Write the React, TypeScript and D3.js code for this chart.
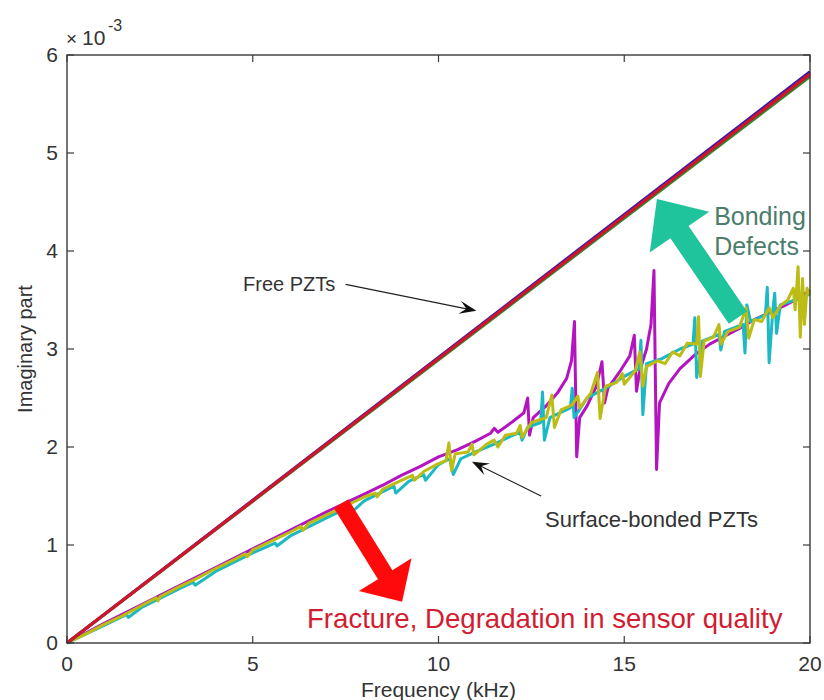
import React from "react";
import * as d3 from "d3";

// ---- data ----
const xTicks = [0, 5, 10, 15, 20];
const yTicks = [0, 1, 2, 3, 4, 5, 6];

const freeFreq = [0, 20];
const freeBlue = [0, 5.83];
const freeGreen = [0, 5.78];
const freeRed = [0, 5.805];

const magentaData: [number, number][] = [
  [0,0],[1,0.2],[2,0.39],[3,0.58],[4,0.77],[5,0.96],[6,1.15],[7,1.34],[7.5,1.43],[8,1.52],[8.5,1.61],[9,1.71],[9.5,1.8],[10,1.9],[10.5,1.97],[11,2.06],[11.4,2.14],[11.5,2.19],[11.6,2.15],[12,2.26],[12.3,2.35],[12.4,2.5],[12.45,2.12],[12.55,2.3],[12.9,2.42],[13.2,2.55],[13.45,2.7],[13.58,2.88],[13.66,3.28],[13.72,1.9],[13.8,2.3],[14.0,2.42],[14.25,2.62],[14.4,2.87],[14.47,2.45],[14.56,2.6],[14.9,2.78],[15.15,2.93],[15.27,3.14],[15.33,2.57],[15.42,2.78],[15.6,3.0],[15.72,3.25],[15.8,3.8],[15.87,1.77],[15.95,2.45],[16.2,2.65],[16.5,2.8],[16.9,2.94],[17.3,3.05],[17.7,3.13],[18.1,3.21],[18.5,3.3],[18.9,3.37],[19.3,3.44],[19.7,3.52],[20,3.6]
];

const cyanData: [number, number][] = [
  [0,0],[1,0.18],[1.6,0.29],[1.65,0.26],[2,0.36],[3,0.55],[3.4,0.62],[3.45,0.59],[4,0.73],[5,0.92],[5.6,1.02],[5.65,0.99],[6,1.09],[7,1.28],[7.6,1.39],[7.65,1.33],[8,1.45],[8.8,1.6],[8.85,1.53],[9.2,1.65],[9.6,1.72],[9.65,1.66],[10,1.82],[10.3,1.88],[10.4,1.72],[10.6,1.88],[11,1.95],[11.5,2.03],[12,2.12],[12.2,2.15],[12.25,2.07],[12.4,2.2],[12.75,2.25],[12.8,2.56],[12.85,2.07],[13,2.3],[13.55,2.4],[13.6,2.6],[13.65,2.3],[14,2.5],[14.5,2.6],[15,2.72],[15.4,2.8],[15.45,3.09],[15.5,2.33],[15.6,2.85],[16,2.9],[16.5,3.0],[16.85,3.05],[16.9,3.32],[16.95,2.71],[17.1,3.08],[17.55,3.15],[17.6,2.99],[17.7,3.18],[18.2,3.25],[18.25,2.96],[18.3,3.45],[18.4,3.28],[18.8,3.35],[18.85,3.63],[18.9,2.86],[19.0,3.4],[19.05,3.57],[19.1,3.16],[19.2,3.45],[19.6,3.5],[20,3.56]
];

const yellowData: [number, number][] = [
  [0,0],[0.5,0.09],[1,0.19],[1.5,0.28],[2,0.38],[2.4,0.46],[2.45,0.43],[2.5,0.47],[3,0.57],[3.5,0.66],[4,0.76],[4.5,0.85],[4.8,0.91],[4.85,0.88],[5,0.95],[5.5,1.04],[6,1.13],[6.3,1.19],[6.35,1.15],[6.5,1.22],[7,1.31],[7.5,1.4],[8,1.49],[8.3,1.53],[8.35,1.49],[8.5,1.57],[9,1.66],[9.3,1.71],[9.35,1.66],[9.6,1.75],[10,1.83],[10.2,1.86],[10.28,2.04],[10.35,1.76],[10.45,1.93],[10.8,1.95],[10.9,2.03],[10.95,1.92],[11.3,2.03],[11.5,2.07],[11.6,2.0],[11.8,2.12],[12.1,2.14],[12.2,2.22],[12.25,2.1],[12.5,2.25],[12.9,2.3],[13.05,2.53],[13.12,2.2],[13.3,2.38],[13.6,2.43],[13.75,2.52],[13.8,2.4],[14.1,2.55],[14.28,2.76],[14.35,2.29],[14.5,2.62],[14.8,2.66],[14.95,2.75],[15.0,2.64],[15.3,2.78],[15.42,2.97],[15.5,2.62],[15.6,2.82],[15.9,2.88],[16.1,2.85],[16.3,2.97],[16.5,2.93],[16.7,3.06],[16.95,3.05],[17.0,3.33],[17.05,2.72],[17.15,3.08],[17.4,3.12],[17.55,3.25],[17.6,3.05],[17.8,3.18],[18.1,3.22],[18.28,3.42],[18.35,3.11],[18.5,3.3],[18.7,3.28],[18.9,3.42],[19.0,3.32],[19.2,3.44],[19.4,3.5],[19.55,3.62],[19.6,3.4],[19.68,3.84],[19.74,3.12],[19.8,3.72],[19.85,3.25],[19.92,3.62],[20,3.55]
];

const FONT = "'Liberation Sans', Arial, Helvetica, sans-serif";

const W = 824, H = 700;
const plot = { left: 67, right: 810, top: 55, bottom: 643 };

function thinArrowHead(x1: number, y1: number, x2: number, y2: number, len = 12, wid = 10) {
  const dx = x2 - x1, dy = y2 - y1;
  const L = Math.hypot(dx, dy);
  const ux = dx / L, uy = dy / L;
  const px = -uy, py = ux;
  const bx = x2 - ux * len, by = y2 - uy * len;
  const nx = x2 - ux * len * 0.6, ny = y2 - uy * len * 0.6;
  return `M${x2},${y2} L${bx + px * wid / 2},${by + py * wid / 2} L${nx},${ny} L${bx - px * wid / 2},${by - py * wid / 2} Z`;
}

function blockArrow(x1: number, y1: number, x2: number, y2: number, shaftW: number, headW: number, headL: number) {
  const dx = x2 - x1, dy = y2 - y1;
  const L = Math.hypot(dx, dy);
  const ux = dx / L, uy = dy / L;
  const px = -uy, py = ux;
  const bx = x2 - ux * headL, by = y2 - uy * headL;
  const s = shaftW / 2, h = headW / 2;
  const pts = [
    [x1 + px * s, y1 + py * s],
    [bx + px * s, by + py * s],
    [bx + px * h, by + py * h],
    [x2, y2],
    [bx - px * h, by - py * h],
    [bx - px * s, by - py * s],
    [x1 - px * s, y1 - py * s],
  ];
  return "M" + pts.map((p) => p.join(",")).join(" L") + " Z";
}

export default function App() {
  const x = d3.scaleLinear().domain([0, 20]).range([plot.left, plot.right]);
  const y = d3.scaleLinear().domain([0, 6]).range([plot.bottom, plot.top]);
  const line = d3.line<[number, number]>().x((d) => x(d[0])).y((d) => y(d[1]));
  const zip = (a: number[], b: number[]) => a.map((v, i) => [v, b[i]] as [number, number]);

  // annotation anchors in data units
  const freeArrow = { x1: x(7.5), y1: y(3.66), x2: x(11.02), y2: y(3.39) };
  const bondArrow = { x1: x(12.76), y1: y(1.5), x2: x(10.9), y2: y(1.85) };
  const redArrow = { x1: x(7.38), y1: y(1.42), x2: x(9.02), y2: y(0.42) };
  const greenArrow = { x1: x(18.06), y1: y(3.32), x2: x(15.88), y2: y(4.53) };

  const tickLen = 7;
  return (
    <svg width={W} height={H} style={{ position: "absolute", left: 0, top: 0, background: "#fff" }} fontFamily={FONT}>
      <rect x={0} y={0} width={W} height={H} fill="#fff" />
      {/* bonded PZTs */}
      <path d={line(magentaData)!} fill="none" stroke="#b414c0" strokeWidth={3} strokeLinejoin="round" />
      <path d={line(cyanData)!} fill="none" stroke="#1cb8c4" strokeWidth={3} strokeLinejoin="round" />
      <path d={line(yellowData)!} fill="none" stroke="#bcbc14" strokeWidth={3} strokeLinejoin="round" />
      {/* free PZTs */}
      <path d={line(zip(freeFreq, freeBlue))!} fill="none" stroke="#3a1aa8" strokeWidth={3} />
      <path d={line(zip(freeFreq, freeGreen))!} fill="none" stroke="#2a8a2a" strokeWidth={3} />
      <path d={line(zip(freeFreq, freeRed))!} fill="none" stroke="#d0142c" strokeWidth={3.2} />

      {/* axes box */}
      <rect x={plot.left} y={plot.top} width={plot.right - plot.left} height={plot.bottom - plot.top} fill="none" stroke="#3a3a3a" strokeWidth={1.4} />
      {xTicks.map((t) => (
        <g key={"xt" + t}>
          <line x1={x(t)} x2={x(t)} y1={plot.bottom} y2={plot.bottom - tickLen} stroke="#3a3a3a" strokeWidth={1.2} />
          <line x1={x(t)} x2={x(t)} y1={plot.top} y2={plot.top + tickLen} stroke="#3a3a3a" strokeWidth={1.2} />
          <text x={x(t)} y={plot.bottom + 28} textAnchor="middle" fontSize={21} fill="#333">{t}</text>
        </g>
      ))}
      {yTicks.map((t) => (
        <g key={"yt" + t}>
          <line x1={plot.left} x2={plot.left + tickLen} y1={y(t)} y2={y(t)} stroke="#3a3a3a" strokeWidth={1.2} />
          <line x1={plot.right} x2={plot.right - tickLen} y1={y(t)} y2={y(t)} stroke="#3a3a3a" strokeWidth={1.2} />
          <text x={plot.left - 9} y={y(t) + 7} textAnchor="end" fontSize={21} fill="#333">{t}</text>
        </g>
      ))}
      <text x={plot.left - 1} y={plot.top - 10} fontSize={19} fill="#333">×</text>
      <text x={plot.left + 15} y={plot.top - 10} fontSize={21} fill="#333">10</text>
      <text x={plot.left + 41} y={plot.top - 24} fontSize={16} fill="#333">-3</text>
      <text x={x(10)} y={697} textAnchor="middle" fontSize={21} fill="#333">Frequency (kHz)</text>
      <text transform={`translate(32,${(plot.top + plot.bottom) / 2}) rotate(-90)`} textAnchor="middle" fontSize={20} fill="#333">Imaginary part</text>

      {/* annotations */}
      <text x={x(4.74)} y={y(3.59)} fontSize={20} fill="#333">Free PZTs</text>
      <line x1={freeArrow.x1} y1={freeArrow.y1} x2={freeArrow.x2 - 6} y2={freeArrow.y2 - 1.2} stroke="#222" strokeWidth={1.2} />
      <path d={thinArrowHead(freeArrow.x1, freeArrow.y1, freeArrow.x2, freeArrow.y2, 17, 13)} fill="#111" />

      <text x={x(12.87)} y={y(1.18)} fontSize={22} fill="#333">Surface-bonded PZTs</text>
      <line x1={bondArrow.x1} y1={bondArrow.y1} x2={bondArrow.x2 + 6} y2={bondArrow.y2 + 3} stroke="#222" strokeWidth={1.2} />
      <path d={thinArrowHead(bondArrow.x1, bondArrow.y1, bondArrow.x2, bondArrow.y2, 17, 13)} fill="#111" />

      <path d={blockArrow(redArrow.x1, redArrow.y1, redArrow.x2, redArrow.y2, 17, 62, 32)} fill="#ff0a0a" />
      <path d={blockArrow(greenArrow.x1, greenArrow.y1, greenArrow.x2, greenArrow.y2, 22, 72, 40)} fill="#20c49c" />

      <text x={x(6.46)} y={y(0.15)} fontSize={27.6} fill="#d21c32">Fracture, Degradation in sensor quality</text>
      <text x={x(17.42)} y={y(4.27)} fontSize={25} fill="#4a7d6c">Bonding</text>
      <text x={x(17.42)} y={y(3.96)} fontSize={25} fill="#4a7d6c">Defects</text>
    </svg>
  );
}
